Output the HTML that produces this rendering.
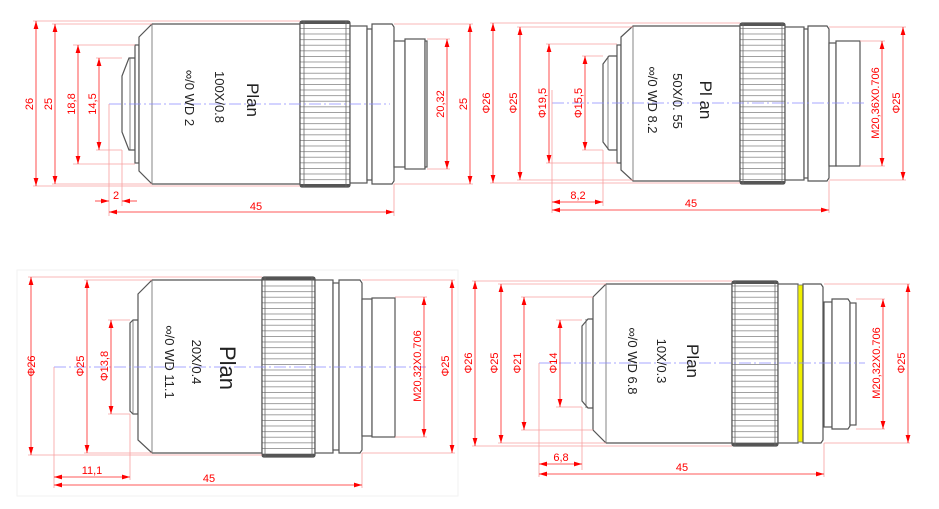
<!DOCTYPE html>
<html><head><meta charset="utf-8"><style>
html,body{margin:0;padding:0;background:#fff;}
svg{display:block;}
.o{fill:#fff;stroke:#555;stroke-width:1.2;}
.e{stroke:#f7a0a0;stroke-width:0.8;fill:none;}
.d{stroke:#f22;stroke-width:0.8;fill:none;}
.c{stroke:#8a8aff;stroke-width:0.8;stroke-dasharray:12 3 2 3;}
.t{fill:#f00;font-family:"Liberation Sans",sans-serif;font-size:11px;}
.k{font-family:"Liberation Sans",sans-serif;fill:#222;}
</style></head><body>
<svg width="939" height="509" viewBox="0 0 939 509" xmlns="http://www.w3.org/2000/svg">
<defs>
<marker id="a" viewBox="0 0 10 6" refX="10" refY="3" markerWidth="8" markerHeight="5" markerUnits="userSpaceOnUse" orient="auto-start-reverse"><path d="M0,0L10,3L0,6z" fill="#f00"/></marker>
<pattern id="kn" width="10" height="5.6" patternUnits="userSpaceOnUse">
<rect x="0" y="0.6" width="10" height="4.4" fill="#fff"/><line x1="0" y1="0.3" x2="10" y2="0.3" stroke="#8a8a8a" stroke-width="1"/></pattern>
</defs>
<rect x="17" y="270" width="441" height="226" fill="none" stroke="#f2f2f2"/>

<!-- ========== PANEL 1 ========== -->
<g>
<path class="o" d="M122,76 L129,58 L135,58 L135,150 L129,150 L122,132 Z"/>
<line x1="130" y1="58" x2="130" y2="150" stroke="#666" stroke-width="0.8"/>
<rect class="o" x="135" y="45" width="4" height="118"/>
<path class="o" d="M139,37 L152,24 L300,24 L300,184 L152,184 L139,171 Z"/>
<line x1="152" y1="24" x2="152" y2="184" stroke="#666" stroke-width="0.8"/>
<rect x="300" y="21" width="50" height="166" fill="url(#kn)" stroke="#555" stroke-width="1.2" rx="2"/>
<rect x="300" y="21" width="50" height="3" fill="#555"/><rect x="300" y="184" width="50" height="3" fill="#555"/>
<line x1="304" y1="21" x2="304" y2="187" stroke="#666" stroke-width="0.8"/><line x1="346" y1="21" x2="346" y2="187" stroke="#666" stroke-width="0.8"/>
<rect class="o" x="350" y="26" width="17" height="157"/>
<rect class="o" x="367" y="29" width="5" height="151"/>
<path class="o" d="M372,24 L392,24 L394,27 L394,181 L392,184 L372,184 Z"/>
<rect class="o" x="394" y="41" width="11" height="126"/>
<rect class="o" x="405" y="39" width="20" height="130"/>
<rect class="o" x="425" y="41" width="2" height="126"/>
<line class="c" x1="109" y1="104" x2="390" y2="104"/>
<text class="k" font-size="17" transform="translate(247,100) rotate(90)" text-anchor="middle">Plan</text>
<text class="k" font-size="13" transform="translate(215,97) rotate(90)" text-anchor="middle">100X/0.8</text>
<text class="k" font-size="13" transform="translate(185,98) rotate(90)" text-anchor="middle">∞/0 WD 2</text>
<path class="e" d="M33,21H300M33,186H300M52,24H152M52,184H152M73,45H135M73,164H135M96,58H122M96,150H122M427,39H450M427,169H450M394,24H473M394,184H473M109,104V216M122,150V206M394,184V216"/>
<line class="d" x1="36" y1="21" x2="36" y2="186" marker-start="url(#a)" marker-end="url(#a)"/>
<line class="d" x1="55" y1="24" x2="55" y2="184" marker-start="url(#a)" marker-end="url(#a)"/>
<line class="d" x1="78" y1="45" x2="78" y2="164" marker-start="url(#a)" marker-end="url(#a)"/>
<line class="d" x1="99" y1="58" x2="99" y2="150" marker-start="url(#a)" marker-end="url(#a)"/>
<line class="d" x1="447" y1="39" x2="447" y2="169" marker-start="url(#a)" marker-end="url(#a)"/>
<line class="d" x1="470" y1="24" x2="470" y2="184" marker-start="url(#a)" marker-end="url(#a)"/>
<line class="d" x1="95" y1="201" x2="109" y2="201" marker-end="url(#a)"/>
<line class="d" x1="137" y1="201" x2="122" y2="201" marker-end="url(#a)"/>
<line class="d" x1="109" y1="212" x2="394" y2="212" marker-start="url(#a)" marker-end="url(#a)"/>
<text class="t" transform="translate(33,104) rotate(-90)" text-anchor="middle">26</text>
<text class="t" transform="translate(52,104) rotate(-90)" text-anchor="middle">25</text>
<text class="t" transform="translate(75,104) rotate(-90)" text-anchor="middle">18,8</text>
<text class="t" transform="translate(96,104) rotate(-90)" text-anchor="middle">14,5</text>
<text class="t" transform="translate(444,104) rotate(-90)" text-anchor="middle">20,32</text>
<text class="t" transform="translate(467,104) rotate(-90)" text-anchor="middle">25</text>
<text class="t" x="116" y="199" text-anchor="middle">2</text>
<text class="t" x="256" y="210" text-anchor="middle">45</text>
</g>

<!-- ========== PANEL 2 ========== -->
<g>
<path class="o" d="M603,64 L609,56 L617,56 L617,150 L609,150 L603,142 Z"/>
<line x1="608" y1="56" x2="608" y2="150" stroke="#666" stroke-width="0.8"/>
<rect class="o" x="617" y="45" width="4" height="118"/>
<path class="o" d="M621,37 L633,26 L740,26 L740,181 L633,181 L621,170 Z"/>
<line x1="633" y1="26" x2="633" y2="181" stroke="#666" stroke-width="0.8"/>
<rect x="740" y="23" width="45" height="161" fill="url(#kn)" stroke="#555" stroke-width="1.2" rx="2"/>
<rect x="740" y="23" width="45" height="3" fill="#555"/><rect x="740" y="181" width="45" height="3" fill="#555"/>
<line x1="743" y1="23" x2="743" y2="184" stroke="#666" stroke-width="0.8"/><line x1="782" y1="23" x2="782" y2="184" stroke="#666" stroke-width="0.8"/>
<rect class="o" x="785" y="27" width="19" height="153"/>
<rect class="o" x="804" y="29" width="4" height="149"/>
<path class="o" d="M808,26 L827,26 L829,29 L829,178 L827,181 L808,181 Z"/>
<rect class="o" x="829" y="43" width="7" height="123"/>
<rect class="o" x="836" y="41" width="24" height="125"/>
<line class="c" x1="552" y1="103" x2="865" y2="103"/>
<text class="k" font-size="17" transform="translate(700,100) rotate(90)" text-anchor="middle">Pl an</text>
<text class="k" font-size="13" transform="translate(673,101) rotate(90)" text-anchor="middle">50X/0. 55</text>
<text class="k" font-size="13" transform="translate(648,100) rotate(90)" text-anchor="middle">∞/0 WD 8.2</text>
<path class="e" d="M490,23H740M490,183H740M517,27H633M517,180H633M546,44H617M546,163H617M582,56H603M582,150H603M860,41H885M860,166H885M829,27H906M829,180H906M552,90V213M603,150V206M829,181V213"/>
<line class="d" x1="493" y1="23" x2="493" y2="183" marker-start="url(#a)" marker-end="url(#a)"/>
<line class="d" x1="520" y1="27" x2="520" y2="180" marker-start="url(#a)" marker-end="url(#a)"/>
<line class="d" x1="549" y1="44" x2="549" y2="163" marker-start="url(#a)" marker-end="url(#a)"/>
<line class="d" x1="585" y1="56" x2="585" y2="150" marker-start="url(#a)" marker-end="url(#a)"/>
<line class="d" x1="882" y1="41" x2="882" y2="166" marker-start="url(#a)" marker-end="url(#a)"/>
<line class="d" x1="903" y1="27" x2="903" y2="180" marker-start="url(#a)" marker-end="url(#a)"/>
<line class="d" x1="552" y1="202" x2="603" y2="202" marker-start="url(#a)" marker-end="url(#a)"/>
<line class="d" x1="552" y1="210" x2="829" y2="210" marker-start="url(#a)" marker-end="url(#a)"/>
<text class="t" transform="translate(490,103) rotate(-90)" text-anchor="middle">Φ26</text>
<text class="t" transform="translate(517,103) rotate(-90)" text-anchor="middle">Φ25</text>
<text class="t" transform="translate(546,103) rotate(-90)" text-anchor="middle">Φ19,5</text>
<text class="t" transform="translate(582,103) rotate(-90)" text-anchor="middle">Φ15,5</text>
<text class="t" transform="translate(879,103) rotate(-90)" text-anchor="middle">M20,36X0.706</text>
<text class="t" transform="translate(900,103) rotate(-90)" text-anchor="middle">Φ25</text>
<text class="t" x="578" y="199" text-anchor="middle">8,2</text>
<text class="t" x="691" y="207" text-anchor="middle">45</text>
</g>

<!-- ========== PANEL 3 ========== -->
<g>
<path class="o" d="M130,323 L133,320 L138,320 L138,414 L133,414 L130,411 Z"/>
<line x1="133" y1="320" x2="133" y2="414" stroke="#666" stroke-width="0.8"/>
<path class="o" d="M138,294 L152,280 L262,280 L262,453 L152,453 L138,440 Z"/>
<line x1="152" y1="280" x2="152" y2="453" stroke="#666" stroke-width="0.8"/>
<rect x="262" y="277" width="53" height="180" fill="url(#kn)" stroke="#555" stroke-width="1.2" rx="2"/>
<rect x="262" y="277" width="53" height="3" fill="#555"/><rect x="262" y="454" width="53" height="3" fill="#555"/>
<line x1="265" y1="277" x2="265" y2="457" stroke="#666" stroke-width="0.8"/><line x1="312" y1="277" x2="312" y2="457" stroke="#666" stroke-width="0.8"/>
<rect class="o" x="315" y="280" width="18" height="173"/>
<rect class="o" x="333" y="283" width="6" height="167"/>
<path class="o" d="M339,280 L360,280 L362,283 L362,450 L360,453 L339,453 Z"/>
<rect class="o" x="362" y="299" width="10" height="137"/>
<rect class="o" x="372" y="298" width="23" height="139"/>
<line class="c" x1="54" y1="367" x2="428" y2="367"/>
<text class="k" font-size="22" transform="translate(220,368) rotate(90)" text-anchor="middle">Plan</text>
<text class="k" font-size="13" transform="translate(192,362) rotate(90)" text-anchor="middle">20X/0.4</text>
<text class="k" font-size="13" transform="translate(165,362) rotate(90)" text-anchor="middle">∞/0 WD 11.1</text>
<path class="e" d="M28,277H262M28,455H262M84,280H152M84,453H152M108,320H130M108,414H130M395,297H427M395,437H427M362,280H455M362,453H455M54,367V488M130,414V480M362,453V488"/>
<line class="d" x1="31" y1="277" x2="31" y2="455" marker-start="url(#a)" marker-end="url(#a)"/>
<line class="d" x1="87" y1="280" x2="87" y2="453" marker-start="url(#a)" marker-end="url(#a)"/>
<line class="d" x1="111" y1="320" x2="111" y2="414" marker-start="url(#a)" marker-end="url(#a)"/>
<line class="d" x1="424" y1="297" x2="424" y2="437" marker-start="url(#a)" marker-end="url(#a)"/>
<line class="d" x1="452" y1="280" x2="452" y2="453" marker-start="url(#a)" marker-end="url(#a)"/>
<line class="d" x1="54" y1="477" x2="130" y2="477" marker-start="url(#a)" marker-end="url(#a)"/>
<line class="d" x1="54" y1="485" x2="362" y2="485" marker-start="url(#a)" marker-end="url(#a)"/>
<text class="t" transform="translate(35,366) rotate(-90)" text-anchor="middle">Φ26</text>
<text class="t" transform="translate(84,366) rotate(-90)" text-anchor="middle">Φ25</text>
<text class="t" transform="translate(108,366) rotate(-90)" text-anchor="middle">Φ13,8</text>
<text class="t" transform="translate(421,366) rotate(-90)" text-anchor="middle">M20,32X0.706</text>
<text class="t" transform="translate(449,366) rotate(-90)" text-anchor="middle">Φ25</text>
<text class="t" x="92" y="474" text-anchor="middle">11,1</text>
<text class="t" x="209" y="482" text-anchor="middle">45</text>
</g>

<!-- ========== PANEL 4 ========== -->
<g>
<path class="o" d="M582,326 L588,319 L593,319 L593,408 L588,408 L582,401 Z"/>
<line x1="586" y1="319" x2="586" y2="408" stroke="#666" stroke-width="0.8"/>
<path class="o" d="M593,297 L606,284 L732,284 L732,443 L606,443 L593,430 Z"/>
<line x1="606" y1="284" x2="606" y2="443" stroke="#666" stroke-width="0.8"/>
<rect x="732" y="281" width="46" height="165" fill="url(#kn)" stroke="#555" stroke-width="1.2" rx="2"/>
<rect x="732" y="281" width="46" height="3" fill="#555"/><rect x="732" y="443" width="46" height="3" fill="#555"/>
<line x1="735" y1="281" x2="735" y2="446" stroke="#666" stroke-width="0.8"/><line x1="775" y1="281" x2="775" y2="446" stroke="#666" stroke-width="0.8"/>
<rect class="o" x="778" y="284" width="20" height="159"/>
<rect x="798" y="285" width="5" height="157" fill="#f0f000" stroke="#777" stroke-width="0.8"/>
<path class="o" d="M803,284 L821,284 L823,287 L823,440 L821,443 L803,443 Z"/>
<rect class="o" x="824" y="302" width="8" height="125"/>
<path class="o" d="M832,299 L848,299 L850,302 L850,426 L848,429 L832,429 Z"/>
<rect class="o" x="850" y="303" width="6" height="122"/>
<line class="c" x1="539" y1="363" x2="865" y2="363"/>
<text class="k" font-size="17" transform="translate(687,361) rotate(90)" text-anchor="middle">Plan</text>
<text class="k" font-size="13" transform="translate(657,361) rotate(90)" text-anchor="middle">10X/0.3</text>
<text class="k" font-size="13" transform="translate(628,361) rotate(90)" text-anchor="middle">∞/0 WD 6.8</text>
<path class="e" d="M472,281H732M472,446H732M498,284H606M498,443H606M521,297H593M521,430H593M556,320H582M556,407H582M856,299H885M856,429H885M824,284H910M824,443H910M539,363V477M582,407V470M824,443V477"/>
<line class="d" x1="475" y1="281" x2="475" y2="446" marker-start="url(#a)" marker-end="url(#a)"/>
<line class="d" x1="501" y1="284" x2="501" y2="443" marker-start="url(#a)" marker-end="url(#a)"/>
<line class="d" x1="524" y1="297" x2="524" y2="430" marker-start="url(#a)" marker-end="url(#a)"/>
<line class="d" x1="560" y1="320" x2="560" y2="407" marker-start="url(#a)" marker-end="url(#a)"/>
<line class="d" x1="883" y1="299" x2="883" y2="429" marker-start="url(#a)" marker-end="url(#a)"/>
<line class="d" x1="908" y1="284" x2="908" y2="443" marker-start="url(#a)" marker-end="url(#a)"/>
<line class="d" x1="539" y1="464" x2="582" y2="464" marker-start="url(#a)" marker-end="url(#a)"/>
<line class="d" x1="539" y1="474" x2="824" y2="474" marker-start="url(#a)" marker-end="url(#a)"/>
<text class="t" transform="translate(472,363) rotate(-90)" text-anchor="middle">Φ26</text>
<text class="t" transform="translate(498,363) rotate(-90)" text-anchor="middle">Φ25</text>
<text class="t" transform="translate(521,363) rotate(-90)" text-anchor="middle">Φ21</text>
<text class="t" transform="translate(557,363) rotate(-90)" text-anchor="middle">Φ14</text>
<text class="t" transform="translate(880,363) rotate(-90)" text-anchor="middle">M20,32X0.706</text>
<text class="t" transform="translate(905,363) rotate(-90)" text-anchor="middle">Φ25</text>
<text class="t" x="561" y="461" text-anchor="middle">6,8</text>
<text class="t" x="682" y="471" text-anchor="middle">45</text>
</g>
</svg>
</body></html>
